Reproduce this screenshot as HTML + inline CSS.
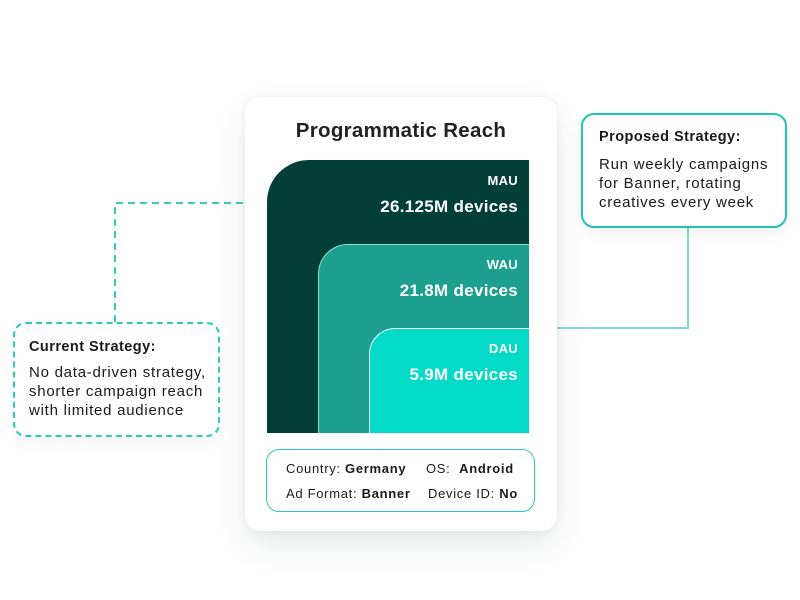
<!DOCTYPE html>
<html><head><meta charset="utf-8"><style>
*{margin:0;padding:0;box-sizing:border-box}
body{width:800px;height:600px;background:#fff;position:relative;overflow:hidden;font-family:"Liberation Sans",Arial,sans-serif;color:#1a1a1a}
.abs{position:absolute}
.card{left:245px;top:97px;width:312px;height:434px;background:#fff;border-radius:16px;box-shadow:0 14px 32px rgba(0,40,35,0.10),0 0 8px rgba(0,0,0,0.05)}
.title{left:245px;width:312px;top:119px;text-align:center;font-weight:bold;font-size:20.5px;letter-spacing:0.3px;color:#222}
.mau{left:267px;top:160px;width:262px;height:273px;background:#033f37;border-top-left-radius:42px}
.wau{left:318px;top:244px;width:211px;height:189px;background:#1d9f90;border-top-left-radius:30px;border-top:1.5px solid #8fe0d4;border-left:1.5px solid #8fe0d4}
.dau{left:369px;top:328px;width:160px;height:105px;background:#03dac8;border-top-left-radius:26px;border-top:1.5px solid #f0fffd;border-left:1.5px solid #f0fffd}
.lab{color:#fff;font-weight:bold;text-align:right;right:282px;letter-spacing:0.3px}
.info{left:266px;top:449px;width:269px;height:63px;border:1.3px solid #2cc7b6;border-radius:13px}
.it{font-size:13px;color:#1a1a1a;letter-spacing:0.7px}
.it b{font-weight:bold}
.cur{left:13px;top:322px;width:207px;height:115px;border:2px dashed #2ccab9;border-radius:13px;background:#fff;box-shadow:0 6px 14px rgba(0,0,0,0.05)}
.pro{left:581px;top:113px;width:206px;height:115px;border:2px solid #22c3b2;border-radius:13px;background:#fff;box-shadow:0 6px 14px rgba(0,0,0,0.06)}
.bh{font-weight:bold;font-size:14.5px;letter-spacing:0.45px;color:#1a1a1a}
.bt{font-size:15px;line-height:19px;letter-spacing:0.75px;color:#1a1a1a}
</style></head><body>
<svg class="abs" style="left:0;top:0" width="800" height="600">
<path d="M115 322 V203 H245" fill="none" stroke="#3ccbbb" stroke-width="2" stroke-dasharray="7 5"/>
<path d="M688 228 V328 H557" fill="none" stroke="#7fded3" stroke-width="2"/>
</svg>
<div class="abs card"></div>
<div class="abs title">Programmatic Reach</div>
<div class="abs mau"></div>
<div class="abs wau"></div>
<div class="abs dau"></div>
<div class="abs lab" style="top:173px;font-size:13px">MAU</div>
<div class="abs lab" style="top:197px;font-size:17px">26.125M devices</div>
<div class="abs lab" style="top:257px;font-size:13px">WAU</div>
<div class="abs lab" style="top:281px;font-size:17px">21.8M devices</div>
<div class="abs lab" style="top:341px;font-size:13px">DAU</div>
<div class="abs lab" style="top:365px;font-size:17px">5.9M devices</div>
<div class="abs info"></div>
<div class="abs it" style="left:286px;top:461px">Country: <b>Germany</b></div>
<div class="abs it" style="left:426px;top:461px">OS:&nbsp; <b>Android</b></div>
<div class="abs it" style="left:286px;top:486px">Ad Format: <b>Banner</b></div>
<div class="abs it" style="left:428px;top:486px">Device ID: <b>No</b></div>
<div class="abs cur"></div>
<div class="abs bh" style="left:29px;top:339px">Current Strategy:</div>
<div class="abs bt" style="left:29px;top:363px">No data-driven strategy,<br>shorter campaign reach<br>with limited audience</div>
<div class="abs pro"></div>
<div class="abs bh" style="left:599px;top:129px">Proposed Strategy:</div>
<div class="abs bt" style="left:599px;top:155px">Run weekly campaigns<br>for Banner, rotating<br>creatives every week</div>
</body></html>
